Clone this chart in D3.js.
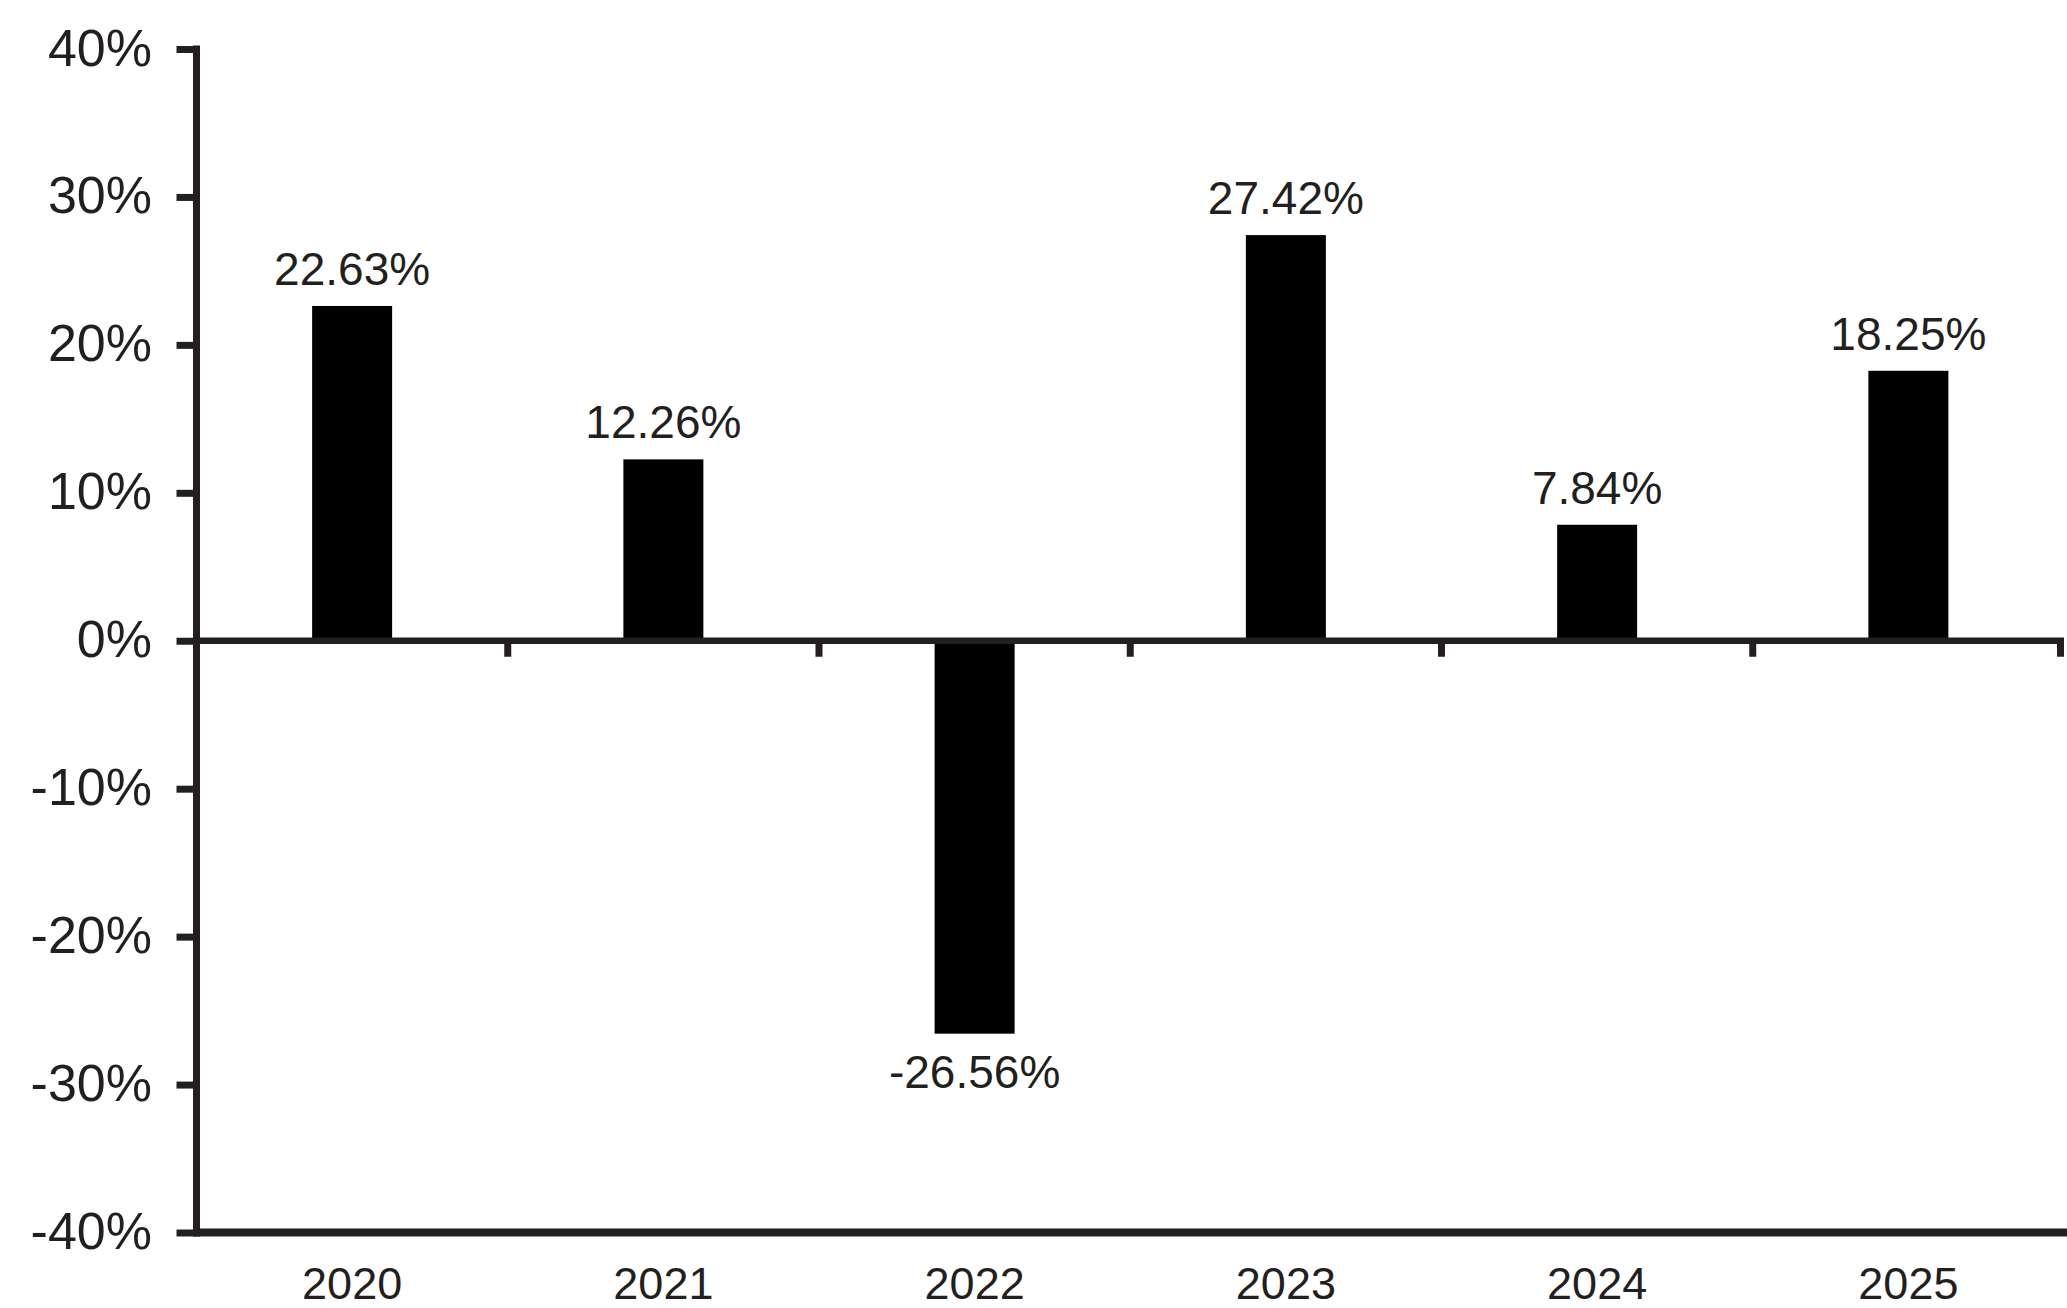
<!DOCTYPE html>
<html>
<head>
<meta charset="utf-8">
<script src="https://cdn.jsdelivr.net/npm/d3@7"></script>
<style>
  html, body { margin: 0; padding: 0; background: #fff; }
  svg { display: block; }
  text { font-family: "Liberation Sans", Arial, sans-serif; fill: #231f20; }
</style>
</head>
<body>
<svg id="chart" width="2067" height="1308"></svg>
<script>
const years = ["2020", "2021", "2022", "2023", "2024", "2025"];
const returns = [22.63, 12.26, -26.56, 27.42, 7.84, 18.25];
const valueLabels = ["22.63%", "12.26%", "-26.56%", "27.42%", "7.84%", "18.25%"];
const yTicks = [40, 30, 20, 10, 0, -10, -20, -30, -40];

const svg = d3.select("#chart");
const axisColor = "#231f20";
const left = 196.5, right = 2064;
const y = d3.scaleLinear().domain([-40, 40]).range([1232.5, 49]);
const x = d3.scaleBand().domain(years).range([left, right]).paddingInner(0.743).paddingOuter(0.3715);
const band = d3.scaleBand().domain(years).range([left, right]).padding(0);

// Bars
svg.append("g").selectAll("rect").data(years).join("rect")
  .attr("x", (d) => x(d))
  .attr("width", x.bandwidth())
  .attr("y", (d, i) => y(Math.max(0, returns[i])))
  .attr("height", (d, i) => Math.abs(y(returns[i]) - y(0)))
  .attr("fill", "#000");

// Y axis
const yAxis = d3.axisLeft(y).tickValues(yTicks).tickSize(20).tickPadding(26)
  .tickFormat((d) => d + "%");
const gy = svg.append("g").attr("transform", `translate(${left},0)`).call(yAxis);
gy.select(".domain").remove();
gy.selectAll(".tick line").attr("stroke", axisColor).attr("stroke-width", 7).attr("x2", -20).attr("x1", 3.5);
gy.selectAll(".tick text").attr("font-size", 52).attr("dy", "16px").attr("x", -44.5).style("fill", axisColor);
svg.append("line").attr("x1", left).attr("x2", left).attr("y1", y(40) - 3.5).attr("y2", y(-40) + 3.5)
  .attr("stroke", axisColor).attr("stroke-width", 7);

// Zero line with boundary ticks
svg.append("line").attr("x1", left).attr("x2", right).attr("y1", y(0)).attr("y2", y(0))
  .attr("stroke", axisColor).attr("stroke-width", 6.5);
const boundaries = years.slice(1).map((d) => band(d)).concat([right - 3.5]);
svg.append("g").selectAll("line").data(boundaries).join("line")
  .attr("x1", (d) => d).attr("x2", (d) => d)
  .attr("y1", y(0)).attr("y2", y(0) + 16)
  .attr("stroke", axisColor).attr("stroke-width", 7);

// Bottom line with year labels
const xAxis = d3.axisBottom(band).tickSize(0).tickPadding(0);
const gx = svg.append("g").attr("transform", `translate(0,${y(-40)})`).call(xAxis);
gx.select(".domain").remove();
gx.selectAll(".tick text").attr("font-size", 45).attr("dy", null).attr("y", 66).style("fill", axisColor);
svg.append("line").attr("x1", left - 3.5).attr("x2", 2067).attr("y1", y(-40)).attr("y2", y(-40))
  .attr("stroke", axisColor).attr("stroke-width", 8);

// Value labels
svg.append("g").selectAll("text").data(years).join("text")
  .attr("x", (d) => x(d) + x.bandwidth() / 2)
  .attr("y", (d, i) => returns[i] >= 0 ? y(returns[i]) - 21 : y(returns[i]) + 54)
  .attr("text-anchor", "middle")
  .attr("font-size", 46)
  .text((d, i) => valueLabels[i]);
</script>
</body>
</html>
